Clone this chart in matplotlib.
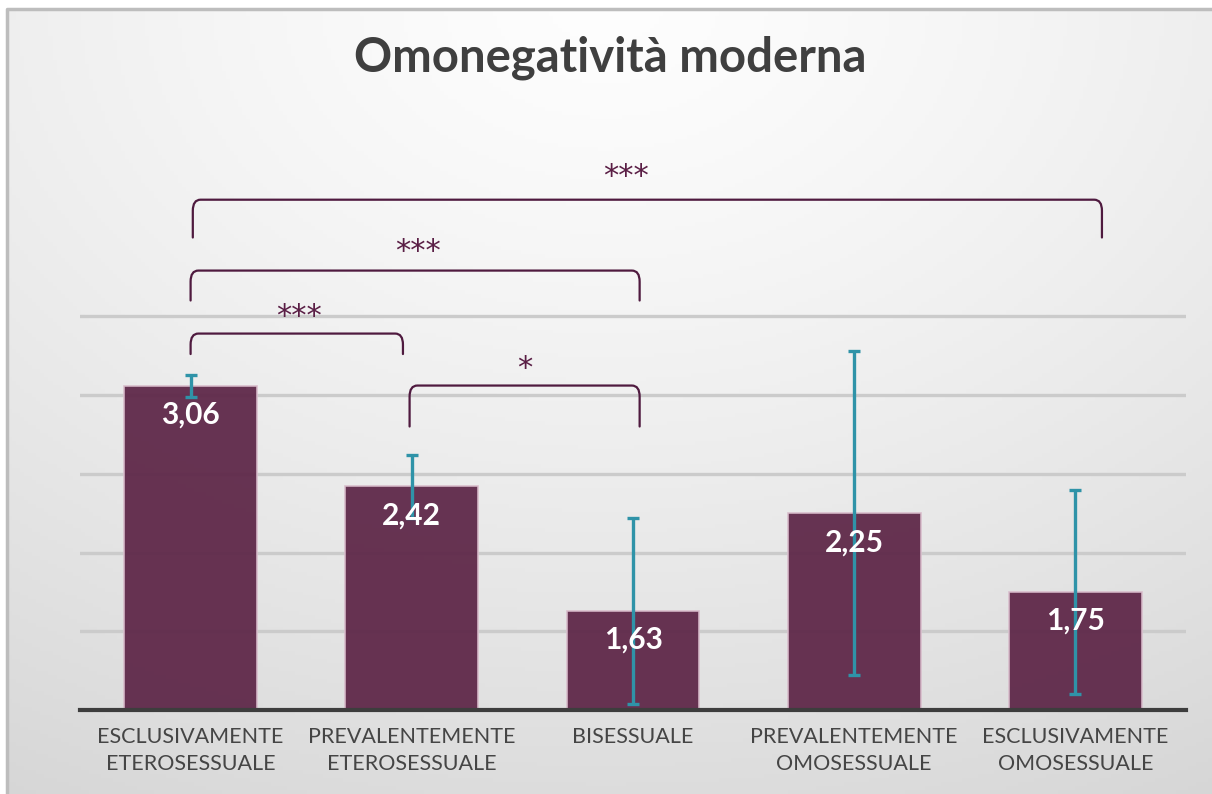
import numpy as np
import matplotlib
matplotlib.use("Agg")
import matplotlib.pyplot as plt
from matplotlib.path import Path
from matplotlib.patches import PathPatch, Rectangle

plt.rcParams['font.family'] = ['Lato', 'DejaVu Sans']

# data
categories = ["ESCLUSIVAMENTE\nETEROSESSUALE", "PREVALENTEMENTE\nETEROSESSUALE",
              "BISESSUALE", "PREVALENTEMENTE\nOMOSESSUALE", "ESCLUSIVAMENTE\nOMOSESSUALE"]
means = [3.06, 2.42, 1.63, 2.25, 1.75]
errors = [0.07, 0.20, 0.59, 1.03, 0.65]
value_labels = ["3,06", "2,42", "1,63", "2,25", "1,75"]

# significance brackets: (left x, right x, top of bracket, bottom of legs, label, label x, label y)
brackets = [
    (0, 0.96, 3.39, 3.26, "***", 0.49, 3.50),
    (0, 2.03, 3.79, 3.60, "***", 1.03, 3.91),
    (0.01, 4.12, 4.24, 4.00, "***", 1.97, 4.39),
    (0.99, 2.03, 3.06, 2.80, "*", 1.51, 3.17),
]

W, H = 1212, 794
fig = plt.figure(figsize=(W / 100, H / 100), dpi=100)

# background gradient
bg = fig.add_axes([0, 0, 1, 1], zorder=-5)
yy, xx = np.mgrid[0:1:200j, 0:1:300j]
r = np.sqrt(((xx - 0.5) * 1.1) ** 2 + (yy * 1.0) ** 2)
shade = 0.995 - 0.13 * np.clip(r, 0, 1.2) ** 1.3
bg.imshow(np.dstack([shade] * 3), extent=[0, 1, 0, 1], origin="upper", aspect="auto")
bg.add_patch(Rectangle((-0.1, 1 - 9 / H), 1.3, 0.2, color="white", zorder=2))
bg.add_patch(Rectangle((-0.1, -0.1), 0.1 + 7 / W, 1.2, color="white", zorder=2))
bg.plot([7 / W, 7 / W, 1.1], [-0.1, 1 - 9 / H, 1 - 9 / H], color="#bdbdbd", lw=2.5, zorder=3)
bg.set_xlim(0, 1)
bg.set_ylim(0, 1)
bg.axis("off")

ax = fig.add_axes([80 / W, 1 - 710 / H, 1106 / W, 590 / H])
ax.set_facecolor("none")
x = np.arange(len(categories))

ax.bar(x, means, width=0.6, bottom=0, color="#5e2748", alpha=0.94,
       edgecolor="#d8bccb", linewidth=1.2, zorder=2)
ax.errorbar(x, means, yerr=errors, fmt="none", ecolor="#2f93a8", elinewidth=2.4,
            capsize=4.5, capthick=2.4, zorder=3)

for xi, m, lab in zip(x, means, value_labels):
    ax.annotate(lab, (xi, m), xytext=(0, -21), textcoords="offset points",
                ha="center", va="center", color="white", fontsize=21.5,
                fontweight="bold", zorder=4)

# gridlines
for gy in [1.5, 2.0, 2.5, 3.0, 3.5]:
    ax.axhline(gy, color="#cbcbcb", lw=2.4, zorder=1)

# brackets
def bracket(x0, x1, ytop, ybot):
    rx, ry = 0.035, 0.07
    verts = [(x0, ybot), (x0, ytop - ry), (x0, ytop), (x0 + rx, ytop),
             (x1 - rx, ytop), (x1, ytop), (x1, ytop - ry), (x1, ybot)]
    codes = [Path.MOVETO, Path.LINETO, Path.CURVE3, Path.CURVE3,
             Path.LINETO, Path.CURVE3, Path.CURVE3, Path.LINETO]
    return PathPatch(Path(verts, codes), fill=False, edgecolor="#4f1a3f", lw=1.6,
                     zorder=5, capstyle="round")

for x0, x1, yt, yb, lab, lx, ly in brackets:
    ax.add_patch(bracket(x0, x1, yt, yb))
    ax.text(lx, ly, lab, ha="center", va="center", color="#5a1e45",
            fontsize=22, family="DejaVu Sans", zorder=5)

ax.set_xlim(-0.5, 4.5)
ax.set_ylim(1.0, 1 + 590 / 157.5)
ax.set_yticks([])
ax.set_xticks(x)
ax.set_xticklabels(categories, fontsize=15.5, color="#454545", linespacing=1.45)
ax.tick_params(axis="x", length=0, pad=12)
for s in ["top", "right", "left"]:
    ax.spines[s].set_visible(False)
ax.spines["bottom"].set_color("#3d3d3d")
ax.spines["bottom"].set_linewidth(3)
ax.spines["bottom"].set_zorder(6)

fig.text(610 / W, 1 - 58 / H, "Omonegatività moderna", ha="center", va="center",
         fontsize=34, fontweight="bold", color="#3f3f3f")

fig.savefig("out.png", dpi=100)
